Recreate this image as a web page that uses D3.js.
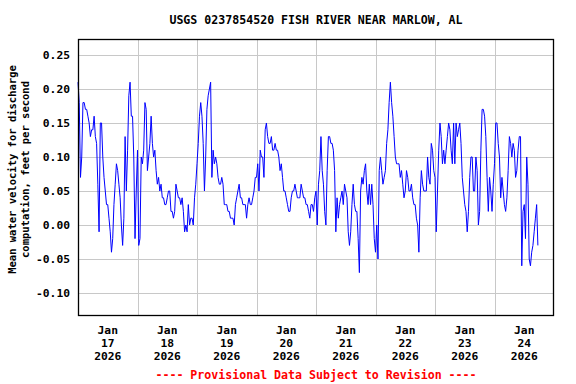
<!DOCTYPE html>
<html>
<head>
<meta charset="utf-8">
<script src="https://cdn.jsdelivr.net/npm/d3@7"></script>
<style>
  body { margin: 0; background: #fff; }
  text { font-family: "DejaVu Sans Mono", monospace; font-weight: bold; }
</style>
</head>
<body>
<svg id="chart" width="576" height="384"></svg>
<script>
const chartTitle = "USGS 0237854520 FISH RIVER NEAR MARLOW, AL";
const yLabelLines = ["Mean water velocity for discharge", "computation, feet per second"];
const footerText = "---- Provisional Data Subject to Revision ----";

const yTicks = [-0.10, -0.05, 0.00, 0.05, 0.10, 0.15, 0.20, 0.25];
const monthLabel = "Jan";
const yearLabel = "2026";
const dayLabels = ["17", "18", "19", "20", "21", "22", "23", "24"];

// readings every 30 minutes from Jan 17 00:00
const startTime = new Date(2026, 0, 17, 0, 0);
const stepMinutes = 30;
const velocity = [
  0.21, 0.18, 0.07, 0.10, 0.18, 0.18, 0.17, 0.17, 0.16, 0.15,
  0.13, 0.14, 0.14, 0.16, 0.13, 0.12, 0.06, -0.01, 0.15, 0.15,
  0.10, 0.07, 0.05, 0.03, 0.03, 0.01, -0.01, -0.04, -0.02, 0.03,
  0.06, 0.09, 0.08, 0.06, 0.04, 0.00, -0.03, 0.01, 0.13, 0.05,
  0.11, 0.19, 0.21, 0.16, 0.16, 0.10, -0.02, 0.05, 0.11, -0.03,
  -0.02, 0.10, 0.09, 0.11, 0.18, 0.17, 0.08, 0.10, 0.12, 0.16,
  0.12, 0.10, 0.11, 0.08, 0.06, 0.07, 0.05, 0.06, 0.04, 0.04,
  0.03, 0.03, 0.04, 0.05, 0.05, 0.02, 0.02, 0.01, 0.02, 0.06,
  0.05, 0.04, 0.04, 0.03, 0.04, 0.02, -0.01, 0.00, -0.01, 0.03,
  0.00, 0.01, 0.01, 0.00, 0.04, 0.06, 0.09, 0.12, 0.16, 0.18,
  0.16, 0.12, 0.05, 0.10, 0.17, 0.19, 0.20, 0.21, 0.07, 0.11,
  0.09, 0.10, 0.09, 0.07, 0.06, 0.06, 0.07, 0.06, 0.03, 0.03,
  0.03, 0.02, 0.02, 0.01, 0.01, 0.01, 0.00, 0.03, 0.04, 0.05,
  0.06, 0.04, 0.04, 0.03, 0.03, 0.03, 0.01, 0.03, 0.04, 0.03,
  0.03, 0.04, 0.05, 0.07, 0.07, 0.09, 0.05, 0.11, 0.10, 0.10,
  0.07, 0.14, 0.15, 0.13, 0.12, 0.12, 0.13, 0.11, 0.11, 0.12,
  0.11, 0.11, 0.10, 0.08, 0.09, 0.07, 0.05, 0.05, 0.04, 0.03,
  0.02, 0.02, 0.04, 0.05, 0.05, 0.06, 0.05, 0.04, 0.04, 0.04,
  0.06, 0.05, 0.04, 0.04, 0.03, 0.03, 0.02, 0.01, 0.03, 0.03,
  0.02, 0.04, 0.05, 0.00, 0.06, 0.08, 0.13, 0.08, 0.06, 0.02,
  0.00, 0.08, 0.13, 0.13, 0.12, 0.12, 0.11, 0.08, -0.01, 0.04,
  0.01, 0.03, 0.04, 0.05, 0.03, 0.06, 0.05, 0.04, -0.01, -0.03,
  -0.01, 0.03, 0.06, 0.03, 0.02, 0.02, -0.02, -0.07, 0.05, 0.07,
  0.06, 0.08, 0.09, 0.05, 0.03, 0.06, 0.03, 0.06, 0.03, -0.02,
  -0.04, 0.00, -0.05, 0.08, 0.10, 0.08, 0.06, 0.07, 0.08, 0.12,
  0.14, 0.18, 0.21, 0.18, 0.16, 0.13, 0.10, 0.09, 0.09, 0.09,
  0.07, 0.08, 0.06, 0.04, 0.05, 0.08, 0.07, 0.05, 0.05, 0.06,
  0.04, 0.03, 0.03, 0.01, 0.00, -0.04, 0.04, 0.08, 0.06, 0.05,
  0.05, 0.05, 0.10, 0.07, 0.06, 0.12, 0.11, 0.08, 0.07, -0.01,
  0.05, 0.11, 0.15, 0.13, 0.09, 0.11, 0.09, 0.11, 0.13, 0.15,
  0.14, 0.11, 0.09, 0.15, 0.09, 0.15, 0.13, 0.14, 0.15, 0.12,
  0.07, 0.05, 0.03, 0.02, -0.01, 0.02, 0.07, 0.10, 0.10, 0.05,
  0.05, 0.10, 0.08, 0.00, 0.02, 0.11, 0.17, 0.17, 0.16, 0.13,
  0.07, 0.02, 0.07, 0.05, 0.02, 0.06, 0.09, 0.15, 0.15, 0.12,
  0.10, 0.04, 0.07, 0.05, 0.03, 0.02, 0.04, 0.08, 0.13, 0.12,
  0.10, 0.12, 0.11, 0.07, 0.08, 0.11, 0.13, 0.13, -0.06, 0.02,
  0.03, -0.02, 0.10, 0.06, -0.05, -0.06, -0.04, -0.03, -0.01, 0.01,
  0.03, -0.03
];

const series = velocity.map((v, i) => ({
  t: new Date(startTime.getTime() + i * stepMinutes * 60000),
  v: v
}));

const plotLeft = 78, plotTop = 39, plotRight = 554, plotBottom = 316;
const svg = d3.select("#chart");

const x = d3.scaleTime()
  .domain([startTime, new Date(2026, 0, 25, 0, 0)])
  .range([plotLeft, plotRight]);
const y = d3.scaleLinear()
  .domain([-0.1338, 0.2735])
  .range([plotBottom, plotTop]);

// horizontal grid + y labels
const yAxis = svg.append("g")
  .attr("transform", `translate(${plotLeft},0)`)
  .call(d3.axisLeft(y).tickValues(yTicks).tickSize(-(plotRight - plotLeft)).tickPadding(8)
    .tickFormat((d) => d.toFixed(2)));
yAxis.select(".domain").remove();
yAxis.selectAll("line").attr("stroke", "#c8c8c8").attr("shape-rendering", "crispEdges");
yAxis.selectAll("text").attr("font-size", 11.3).attr("fill", "#000")
  .attr("font-family", "DejaVu Sans Mono").attr("font-weight", "bold");

// vertical grid at midnight
const days = d3.timeDay.range(new Date(2026, 0, 18), new Date(2026, 0, 25));
const xGrid = svg.append("g")
  .attr("transform", `translate(0,${plotBottom})`)
  .call(d3.axisBottom(x).tickValues(days).tickSize(-(plotBottom - plotTop)).tickFormat(""));
xGrid.select(".domain").remove();
xGrid.selectAll("line").attr("stroke", "#c8c8c8").attr("shape-rendering", "crispEdges");

// date labels centred on noon
const noons = dayLabels.map((d, i) => new Date(2026, 0, 17 + i, 12));
const labels = svg.append("g").selectAll("text")
  .data(noons)
  .enter()
  .append("text")
  .attr("text-anchor", "middle")
  .attr("font-size", 11.3)
  .attr("fill", "#000");
labels.append("tspan").attr("x", (d) => x(d)).attr("y", 334).text(monthLabel);
labels.append("tspan").attr("x", (d) => x(d)).attr("y", 347).text((d, i) => dayLabels[i]);
labels.append("tspan").attr("x", (d) => x(d)).attr("y", 360).text(yearLabel);

// data line
svg.append("path")
  .datum(series)
  .attr("fill", "none")
  .attr("stroke", "#0000ff")
  .attr("stroke-width", 1)
  .attr("d", d3.line().x((d) => x(d.t)).y((d) => y(d.v)));

// frame
svg.append("rect")
  .attr("x", plotLeft + 0.5)
  .attr("y", plotTop + 0.5)
  .attr("width", plotRight - plotLeft - 1)
  .attr("height", plotBottom - plotTop - 1)
  .attr("fill", "none")
  .attr("stroke", "#000")
  .attr("stroke-width", 1.3);

svg.append("text")
  .attr("x", (plotLeft + plotRight) / 2)
  .attr("y", 24)
  .attr("text-anchor", "middle")
  .attr("font-size", 11.6)
  .text(chartTitle);

const yl = svg.append("text")
  .attr("transform", `translate(16,${(plotTop + plotBottom) / 2 - 8}) rotate(-90)`)
  .attr("text-anchor", "middle")
  .attr("font-size", 10.5);
yl.append("tspan").attr("x", 0).attr("y", 0).text(yLabelLines[0]);
yl.append("tspan").attr("x", 0).attr("y", 13).text(yLabelLines[1]);

svg.append("text")
  .attr("x", (plotLeft + plotRight) / 2)
  .attr("y", 379)
  .attr("text-anchor", "middle")
  .attr("font-size", 11.6)
  .attr("fill", "#ff0000")
  .text(footerText);
</script>
</body>
</html>
